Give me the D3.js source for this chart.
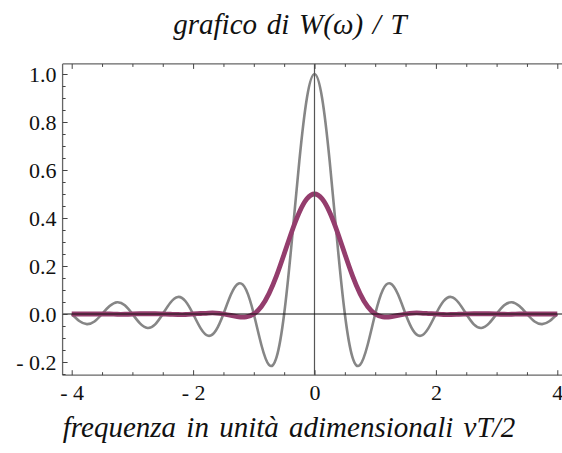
<!DOCTYPE html>
<html>
<head>
<meta charset="utf-8">
<script src="https://cdn.jsdelivr.net/npm/d3@7"></script>
<style>
  html, body { margin: 0; padding: 0; background: #fff; }
  svg { display: block; }
</style>
</head>
<body>
<div id="chart"></div>
<script>
// frequency samples (νT/2)
const freqs = [
  -4, -3.875, -3.75, -3.625, -3.5, -3.375, -3.25, -3.125,
  -3, -2.875, -2.75, -2.625, -2.5, -2.375, -2.25, -2.125,
  -2, -1.875, -1.75, -1.625, -1.5, -1.375, -1.25, -1.125,
  -1, -0.875, -0.75, -0.625, -0.5, -0.375, -0.25, -0.125,
  0, 0.125, 0.25, 0.375, 0.5, 0.625, 0.75, 0.875,
  1, 1.125, 1.25, 1.375, 1.5, 1.625, 1.75, 1.875,
  2, 2.125, 2.25, 2.375, 2.5, 2.625, 2.75, 2.875,
  3, 3.125, 3.25, 3.375, 3.5, 3.625, 3.75, 3.875, 4
];

// gray curve: rectangular window
const rectValues = [
  0, -0.029, -0.042, -0.031, 0, 0.033, 0.049, 0.036,
  0, -0.039, -0.058, -0.043, 0, 0.047, 0.071, 0.053,
  0, -0.060, -0.091, -0.069, 0, 0.082, 0.127, 0.100,
  0, -0.129, -0.212, -0.180, 0, 0.300, 0.637, 0.900,
  1, 0.900, 0.637, 0.300, 0, -0.180, -0.212, -0.129,
  0, 0.100, 0.127, 0.082, 0, -0.069, -0.091, -0.060,
  0, 0.053, 0.071, 0.047, 0, -0.043, -0.058, -0.039,
  0, 0.036, 0.049, 0.033, 0, -0.031, -0.042, -0.029, 0
];

// purple curve: smoothed window
const hannValues = [
  0, 0, 0, 0, 0, 0, -0.001, -0.001,
  0, 0.001, 0.001, 0.001, 0, -0.001, -0.002, -0.002,
  0, 0.002, 0.004, 0.004, 0, -0.006, -0.012, -0.012,
  0, 0.031, 0.085, 0.160, 0.250, 0.343, 0.424, 0.480,
  0.500, 0.480, 0.424, 0.343, 0.250, 0.160, 0.085, 0.031,
  0, -0.012, -0.012, -0.006, 0, 0.004, 0.004, 0.002,
  0, -0.002, -0.002, -0.001, 0, 0.001, 0.001, 0.001,
  0, -0.001, -0.001, 0, 0, 0, 0, 0, 0
];

const xTickValues = [-4, -2, 0, 2, 4];
const yTickValues = [-0.2, 0, 0.2, 0.4, 0.6, 0.8, 1.0];
const titleText = 'grafico di W(ω) / T';
const xLabelText = 'frequenza in unità adimensionali νT/2';

const serif = '"Liberation Serif", "Times New Roman", Times, "DejaVu Serif", serif';
const width = 562;
const height = 453;

const svg = d3.select('#chart')
  .append('svg')
  .attr('width', width)
  .attr('height', height);

// scales
const x = d3.scaleLinear().domain([-4, 4]).range([71.7, 557.3]);
const y = d3.scaleLinear().domain([0, 1]).range([314, 74]);

const xMin = -4.15, xMax = 4.15;
const yMin = -0.255, yMax = 1.042;

const frameLeft = x(xMin), frameRight = x(xMax);
const frameTop = y(yMax), frameBottom = y(yMin);

svg.append('clipPath')
  .attr('id', 'plot-clip')
  .append('rect')
  .attr('x', frameLeft)
  .attr('y', frameTop)
  .attr('width', frameRight - frameLeft)
  .attr('height', frameBottom - frameTop);

const plot = svg.append('g').attr('clip-path', 'url(#plot-clip)');

const line = d3.line()
  .x(d => x(d[0]))
  .y(d => y(d[1]))
  .curve(d3.curveNatural);

// gray curve
plot.append('path')
  .datum(d3.zip(freqs, rectValues))
  .attr('d', line)
  .style('fill', 'none')
  .style('stroke', '#868686')
  .style('stroke-width', 2.6);

// purple curve
plot.append('path')
  .datum(d3.zip(freqs, hannValues))
  .attr('d', line)
  .style('fill', 'none')
  .style('stroke', '#943d6d')
  .style('stroke-width', 4.8);

// axes through origin (drawn on top)
plot.append('line')
  .attr('x1', x(0)).attr('x2', x(0))
  .attr('y1', frameTop).attr('y2', frameBottom)
  .style('stroke', '#555')
  .style('stroke-width', 1.2);

plot.append('line')
  .attr('x1', frameLeft).attr('x2', frameRight)
  .attr('y1', y(0)).attr('y2', y(0))
  .style('stroke', '#111')
  .style('stroke-width', 1.2);

// frame axes with inward ticks
const xMinor = d3.range(-4, 4.01, 0.5).filter(v => !xTickValues.includes(v));
const yMinor = d3.range(-0.25, 1.05, 0.05)
  .map(v => Math.round(v * 100) / 100)
  .filter(v => !yTickValues.some(t => Math.abs(t - v) < 1e-6));

const fmtX = d => (d < 0 ? '- ' + Math.abs(d) : String(d));
const fmtY = d => (d < 0 ? '- ' + d3.format('.1f')(Math.abs(d)) : d3.format('.1f')(d));

function styleFrame(g) {
  g.attr('font-family', null).attr('font-size', null);
  g.select('.domain').style('stroke', '#666').style('stroke-width', 1.3);
  g.selectAll('.tick line').style('stroke', '#444').style('stroke-width', 1);
  g.selectAll('.tick text')
    .style('font-family', serif)
    .style('font-size', '22px')
    .style('fill', '#111');
}

// bottom
const bottomAxis = svg.append('g')
  .attr('transform', `translate(0,${frameBottom})`)
  .call(d3.axisBottom(x).tickValues(xTickValues).tickSize(-5).tickSizeOuter(0)
    .tickPadding(9).tickFormat(fmtX));
bottomAxis.select('.domain').attr('d', `M${frameLeft},0H${frameRight}`);
bottomAxis.append('g')
  .call(d3.axisBottom(x).tickValues(xMinor).tickSize(-3).tickFormat(''))
  .call(g => g.select('.domain').remove());
styleFrame(bottomAxis);

// top
const topAxis = svg.append('g')
  .attr('transform', `translate(0,${frameTop})`)
  .call(d3.axisTop(x).tickValues(xTickValues).tickSize(-5).tickSizeOuter(0).tickFormat(''));
topAxis.select('.domain').attr('d', `M${frameLeft},0H${frameRight}`);
topAxis.append('g')
  .call(d3.axisTop(x).tickValues(xMinor).tickSize(-3).tickFormat(''))
  .call(g => g.select('.domain').remove());
styleFrame(topAxis);

// left
const leftAxis = svg.append('g')
  .attr('transform', `translate(${frameLeft},0)`)
  .call(d3.axisLeft(y).tickValues(yTickValues).tickSize(-5).tickSizeOuter(0)
    .tickPadding(6).tickFormat(fmtY));
leftAxis.select('.domain').attr('d', `M0,${frameTop}V${frameBottom}`);
leftAxis.append('g')
  .call(d3.axisLeft(y).tickValues(yMinor).tickSize(-3).tickFormat(''))
  .call(g => g.select('.domain').remove());
styleFrame(leftAxis);

// title and axis label
svg.append('text')
  .attr('x', 290)
  .attr('y', 34)
  .attr('text-anchor', 'middle')
  .style('font-family', serif)
  .style('font-size', '29px')
  .style('font-style', 'italic')
  .style('word-spacing', '2.5px')
  .style('fill', '#111')
  .text(titleText);

svg.append('text')
  .attr('x', 289)
  .attr('y', 437)
  .attr('text-anchor', 'middle')
  .style('font-family', serif)
  .style('font-size', '29px')
  .style('font-style', 'italic')
  .style('word-spacing', '3px')
  .style('fill', '#111')
  .text(xLabelText);
</script>
</body>
</html>
